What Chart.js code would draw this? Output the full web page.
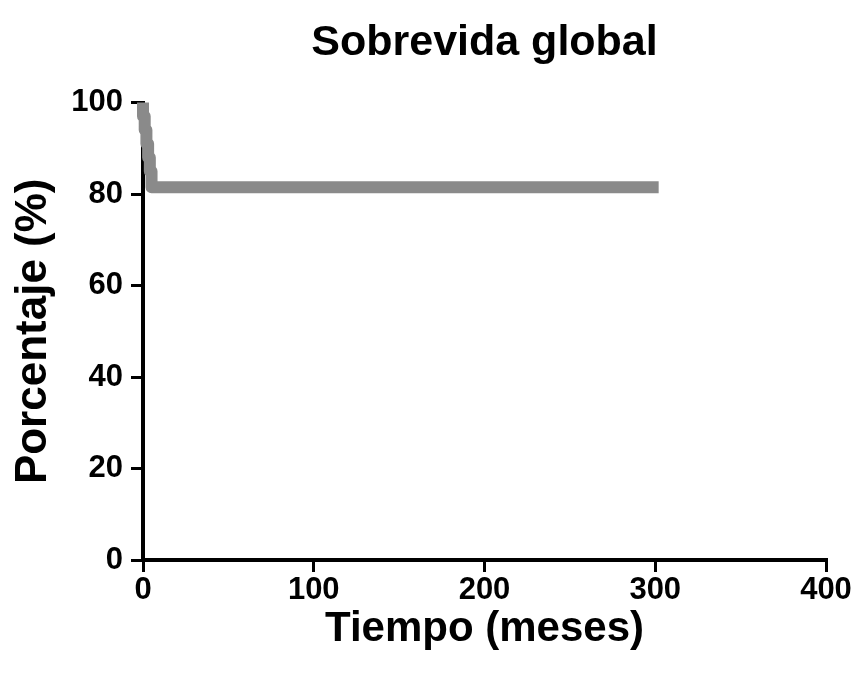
<!DOCTYPE html>
<html>
<head>
<meta charset="utf-8">
<script src="https://cdn.jsdelivr.net/npm/chart.js@4.4.0/dist/chart.umd.min.js"></script>
<style>
html,body{margin:0;padding:0;background:#fff;}
#wrap{width:859px;height:677px;}
</style>
</head>
<body>
<div id="wrap"><canvas id="c" width="859" height="677"></canvas></div>
<script>
const chartTitle = "Sobrevida global";
const xAxisTitle = "Tiempo (meses)";
const yAxisTitle = "Porcentaje (%)";
const timeMonths = [0, 1, 2, 3, 4, 5, 6, 302];
const survivalPct = [100, 97, 94, 91, 88, 85, 81.5, 81.5];
const xTicks = [0, 100, 200, 300, 400];
const yTicks = [0, 20, 40, 60, 80, 100];

const FONT = "'Liberation Sans', Arial, sans-serif";

new Chart(document.getElementById('c'), {
  type: 'line',
  data: {
    datasets: [{
      data: timeMonths.map((t, i) => ({x: t, y: survivalPct[i]})),
      borderColor: '#8a8a8a',
      borderWidth: 12,
      stepped: 'after',
      pointRadius: 0,
      fill: false,
      clip: false,
      borderCapStyle: 'butt',
      borderJoinStyle: 'round'
    }]
  },
  options: {
    responsive: false,
    animation: false,
    devicePixelRatio: 1,
    layout: {padding: {left: 0, right: 33, top: 0, bottom: 0}},
    plugins: {
      legend: {display: false},
      tooltip: {enabled: false},
      title: {
        display: true,
        text: chartTitle,
        fullSize: false,
        color: '#000',
        font: {family: FONT, size: 43, weight: 'bold'},
        padding: {top: 17, bottom: 34}
      }
    },
    scales: {
      x: {
        type: 'linear',
        min: 0, max: 400,
        afterBuildTicks: s => { s.ticks = xTicks.map(v => ({value: v})); },
        afterFit: s => { s.height = 117; },
        border: {display: true, color: '#000', width: 4},
        grid: {display: true, drawOnChartArea: false, drawTicks: true, tickLength: 12, color: '#000', lineWidth: 3},
        ticks: {color: '#000', padding: 0, maxRotation: 0, font: {family: FONT, size: 31, weight: 'bold'}},
        title: {display: true, text: xAxisTitle, color: '#000', font: {family: FONT, size: 42, weight: 'bold'}, padding: {top: 0, bottom: 22}}
      },
      y: {
        type: 'linear',
        min: 0, max: 100,
        afterBuildTicks: s => { s.ticks = yTicks.map(v => ({value: v})); },
        afterFit: s => { s.width = 143; },
        border: {display: true, color: '#000', width: 4},
        grid: {display: true, drawOnChartArea: false, drawTicks: true, tickLength: 12, color: '#000', lineWidth: 3},
        ticks: {color: '#000', padding: 8, font: {family: FONT, size: 31, weight: 'bold'}},
        title: {display: true, text: yAxisTitle, color: '#000', font: {family: FONT, size: 44, weight: 'bold'}, padding: {top: 7, bottom: 0}}
      }
    }
  }
});
</script>
</body>
</html>
